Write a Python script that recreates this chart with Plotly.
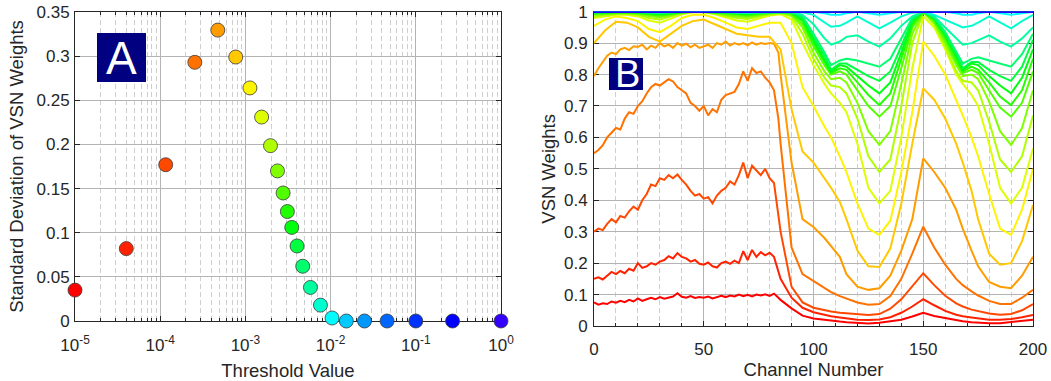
import colorsys
import plotly.graph_objects as go

# ---- Panel A: spread of VSN weights versus threshold ----
thresholds = [1e-5, 4e-5, 1.16e-4, 2.55e-4, 4.74e-4, 7.7e-4, 1.13e-3, 1.55e-3,
              1.97e-3, 2.38e-3, 2.77e-3, 3.11e-3, 3.5e-3, 4.04e-3, 4.71e-3, 5.8e-3,
              7.6e-3, 1.04e-2, 1.53e-2, 2.5e-2, 4.6e-2, 0.1, 0.27, 1.0]
std_weights = [0.035, 0.082, 0.177, 0.293, 0.3295, 0.299, 0.264, 0.231,
               0.1986, 0.170, 0.145, 0.124, 0.106, 0.085, 0.062, 0.038,
               0.018, 0.0034, 0.0, 0.0, 0.0, 0.0, 0.0, 0.0]

a_xtick_vals = [1e-5, 1e-4, 1e-3, 1e-2, 1e-1, 1e0]
a_xtick_text = ["10<sup>-5</sup>", "10<sup>-4</sup>", "10<sup>-3</sup>",
                "10<sup>-2</sup>", "10<sup>-1</sup>", "10<sup>0</sup>"]
a_ytick_vals = [0, 0.05, 0.1, 0.15, 0.2, 0.25, 0.3, 0.35]
a_ytick_text = ["0", "0.05", "0.1", "0.15", "0.2", "0.25", "0.3", "0.35"]

# ---- Panel B: VSN weight per channel, one curve per threshold ----
# coarse channel grid for the smoother curves
channels = [0, 5, 10, 15, 20, 25, 30, 35, 40, 45, 50, 55, 60, 65, 70, 75, 80, 85, 90, 95,
            100, 105, 108, 112, 115, 120, 125, 130, 135, 140, 145, 150, 155, 160, 165,
            168, 172, 175, 180, 185, 190, 195, 200]
# denser grid over channels 0-84 for the noisy low-threshold curves
channels_fine = [0, 2, 4, 6, 8, 10, 12, 14, 16, 18, 20, 22, 24, 26, 28, 30, 32, 34, 36,
                 38, 40, 42, 44, 46, 48, 50, 52, 54, 56, 58, 60, 62, 64, 66, 68, 70, 72,
                 74, 76, 78, 80, 82, 84,
                 85, 90, 95, 100, 105, 108, 112, 115, 120, 125, 130, 135, 140, 145, 150,
                 155, 160, 165, 168, 172, 175, 180, 185, 190, 195, 200]

w00 = [.075, .068, .072, .070, .078, .074, .080, .076, .083, .078, .088, .080, .085,
       .090, .085, .092, .087, .090, .094, .104, .093, .090, .095, .089, .092, .090,
       .094, .088, .092, .096, .092, .097, .094, .100, .095, .099, .094, .100, .097,
       .101, .096, .103, .090,
       .083, .056, .033, .024, .019, .017, .014, .012, .009, .008, .010, .014, .020,
       .030, .042, .032, .025, .018, .015, .012, .010, .009, .009, .012, .016, .020]
w01 = [.150, .155, .148, .160, .172, .165, .175, .168, .182, .176, .200, .185, .190,
       .200, .195, .205, .210, .222, .215, .232, .220, .215, .205, .210, .198, .195,
       .202, .190, .186, .200, .205, .198, .208, .200, .238, .210, .242, .220, .235,
       .225, .233, .220, .175,
       .150, .090, .058, .044, .035, .031, .027, .024, .020, .019, .021, .028, .042,
       .062, .085, .066, .048, .036, .031, .027, .024, .020, .020, .022, .028, .035]
w02 = [.300, .310, .305, .325, .340, .330, .350, .345, .365, .380, .370, .400, .420,
       .450, .445, .470, .465, .480, .470, .482, .465, .450, .430, .415, .420, .405,
       .410, .390, .415, .430, .440, .460, .450, .480, .520, .470, .510, .495, .480,
       .500, .470, .455, .340,
       .300, .125, .075, .058, .050, .046, .042, .040, .036, .035, .038, .055, .085,
       .125, .168, .130, .096, .072, .062, .052, .047, .040, .036, .038, .050, .070]
w03 = [.550, .560, .575, .600, .615, .630, .625, .660, .680, .675, .700, .715, .740,
       .760, .770, .765, .775, .785, .778, .760, .750, .740, .710, .700, .685, .700,
       .670, .690, .680, .720, .735, .740, .745, .770, .810, .780, .820, .805, .810,
       .790, .775, .750, .660,
       .580, .250, .165, .142, .120, .108, .095, .088, .075, .068, .070, .095, .150,
       .230, .316, .250, .195, .150, .130, .110, .097, .080, .070, .070, .090, .115]
w04 = [.795, .820, .840, .860, .870, .865, .880, .885, .878, .890, .888, .895, .880,
       .892, .885, .900, .890, .895, .885, .900, .892, .898, .887, .895, .885, .890,
       .895, .885, .900, .895, .905, .892, .900, .895, .900, .893, .902, .895, .900,
       .897, .900, .898, .870,
       .800, .520, .340, .315, .280, .255, .220, .165, .125, .115, .120, .160, .240,
       .340, .533, .490, .440, .370, .310, .240, .190, .140, .125, .120, .160, .220]
w05 = [.900, .940, .968, .965, .950, .920, .905, .930, .955, .970,
       .975, .960, .945, .930, .925, .920, .920, .880, .690, .555,
       .520, .470, .440, .395, .340, .240, .190, .188, .247, .390,
       .580, .756, .720, .660, .580, .520, .430, .340, .230, .195,
       .200, .270, .385]
w06 = [.955, .975, .985, .980, .970, .945, .935, .955, .980, .990,
       .990, .980, .965, .950, .945, .955, .965, .965, .900, .760,
       .700, .635, .600, .540, .490, .390, .310, .290, .335, .490,
       .680, .905, .860, .800, .720, .670, .600, .540, .420, .310,
       .290, .370, .500]
w07 = [.980, .985, .990, .990, .985, .972, .965, .978, .992, .998,
       .998, .992, .982, .972, .968, .978, .988, .992, .975, .900,
       .830, .770, .740, .710, .680, .580, .440, .390, .430, .600,
       .820, .985, .950, .880, .800, .770, .735, .700, .580, .440,
       .390, .440, .565]
w08 = [.985, .990, .993, .993, .990, .980, .975, .985, .995, .999,
       .999, .994, .988, .980, .977, .985, .992, .995, .985, .930,
       .850, .790, .765, .760, .740, .660, .540, .490, .530, .700,
       .900, .998, .960, .890, .810, .780, .775, .750, .650, .530,
       .490, .540, .670]
w09 = [.990, .993, .995, .995, .993, .986, .982, .989, .996, 1.00,
       1.00, .996, .991, .985, .983, .989, .994, .997, .990, .950,
       .870, .810, .785, .790, .775, .710, .620, .576, .620, .770,
       .930, 1.00, .965, .900, .830, .795, .800, .785, .715, .620,
       .576, .630, .750]
w10 = [.993, .995, .997, .997, .995, .990, .987, .992, .998, 1.00,
       1.00, .997, .994, .989, .987, .992, .996, .998, .993, .960,
       .890, .830, .800, .810, .800, .750, .700, .666, .700, .820,
       .950, 1.00, .970, .910, .840, .805, .815, .805, .750, .695,
       .666, .710, .810]
w11 = [.995, .997, .998, .998, .997, .993, .990, .994, .999, 1.00,
       1.00, .998, .996, .992, .990, .994, .997, .999, .995, .970,
       .900, .840, .805, .820, .815, .775, .735, .703, .740, .850,
       .960, 1.00, .975, .920, .850, .810, .825, .815, .775, .730,
       .703, .750, .850]
w12 = [.996, .998, .999, .999, .998, .995, .993, .996, .999, 1.00,
       1.00, .999, .997, .994, .993, .996, .998, .999, .997, .975,
       .910, .850, .810, .830, .825, .795, .765, .740, .775, .870,
       .970, 1.00, .978, .925, .860, .815, .835, .830, .795, .765,
       .740, .790, .880]
w13 = [.997, .999, 1.00, 1.00, .999, .996, .995, .997, 1.00, 1.00,
       1.00, .999, .998, .996, .995, .997, .999, 1.00, .998, .980,
       .920, .860, .815, .835, .835, .815, .795, .780, .810, .890,
       .975, 1.00, .980, .930, .865, .820, .840, .840, .815, .795,
       .780, .825, .910]
w14 = [.998, .999, 1.00, 1.00, .999, .997, .996, .998, 1.00, 1.00,
       1.00, 1.00, .999, .997, .996, .998, .999, 1.00, .999, .985,
       .930, .870, .830, .845, .850, .845, .835, .825, .850, .915,
       .980, 1.00, .983, .935, .875, .835, .850, .855, .845, .835,
       .825, .865, .930]
w15 = [.999, 1.00, 1.00, 1.00, 1.00, .998, .997, .999, 1.00, 1.00,
       1.00, 1.00, 1.00, .998, .997, .999, 1.00, 1.00, 1.00, .990,
       .960, .915, .895, .905, .920, .925, .905, .889, .915, .955,
       .985, 1.00, .985, .950, .915, .895, .900, .910, .925, .905,
       .889, .915, .950]
w16 = [1.00, 1.00, 1.00, 1.00, 1.00, .999, .999, 1.00, 1.00, 1.00,
       1.00, 1.00, 1.00, .999, .999, 1.00, 1.00, 1.00, 1.00, .998,
       .990, .965, .952, .955, .965, .985, .965, .947, .965, .985,
       .997, 1.00, .990, .975, .958, .950, .955, .965, .985, .965,
       .947, .970, .990]
w17 = [1.00, 1.00, 1.00, 1.00, 1.00, 1.00, 1.00, 1.00, 1.00, 1.00,
       1.00, 1.00, 1.00, 1.00, 1.00, 1.00, 1.00, 1.00, 1.00, 1.00,
       1.00, .995, .990, .990, .995, 1.00, .995, .990, .995, 1.00,
       1.00, 1.00, 1.00, 1.00, .995, .990, .990, .995, 1.00, .995,
       .990, .995, 1.00]
w18 = [1.00, 1.00, 1.00, 1.00, 1.00, 1.00, 1.00, 1.00, 1.00, 1.00,
       1.00, 1.00, 1.00, 1.00, 1.00, 1.00, 1.00, 1.00, 1.00, 1.00,
       1.00, 1.00, 1.00, 1.00, 1.00, 1.00, 1.00, 1.00, 1.00, 1.00,
       1.00, 1.00, 1.00, 1.00, 1.00, 1.00, 1.00, 1.00, 1.00, 1.00,
       1.00, 1.00, 1.00]
w19 = list(w18)
w20 = list(w18)
w21 = list(w18)
w22 = list(w18)
w23 = list(w18)
weight_curves = [w00, w01, w02, w03, w04, w05, w06, w07, w08, w09, w10, w11,
                 w12, w13, w14, w15, w16, w17, w18, w19, w20, w21, w22, w23]

b_xtick_vals = [0, 50, 100, 150, 200]
b_ytick_vals = [0, 0.1, 0.2, 0.3, 0.4, 0.5, 0.6, 0.7, 0.8, 0.9, 1.0]
b_ytick_text = ["0", "0.1", "0.2", "0.3", "0.4", "0.5", "0.6", "0.7", "0.8", "0.9", "1"]

# hue ramp red -> violet-blue, one colour per threshold
n = len(thresholds)
colors = []
for i in range(n):
    hue = 0.7 * (i / (n - 1)) ** 1.1
    r, g, b = colorsys.hsv_to_rgb(hue, 1.0, 1.0)
    colors.append("rgb(%d,%d,%d)" % (round(r * 255), round(g * 255), round(b * 255)))

W, H = 1051, 381
FONT = "Liberation Sans, Arial, sans-serif"
INK = "#262626"
MAJOR_GRID = "#b4b4b4"
MINOR_GRID = "#cfcfcf"
DASH = "5px,3px"

fig = go.Figure()

fig.add_trace(go.Scatter(
    x=thresholds, y=std_weights, mode="markers", xaxis="x", yaxis="y",
    marker=dict(size=14, color=colors, line=dict(color="#3a3a3a", width=0.8)),
    cliponaxis=False, showlegend=False, hoverinfo="skip"))

for i, w in enumerate(weight_curves):
    xs = channels_fine if len(w) == len(channels_fine) else channels
    fig.add_trace(go.Scatter(
        x=xs, y=w, mode="lines", xaxis="x2", yaxis="y2",
        line=dict(color=colors[i], width=2), cliponaxis=False,
        showlegend=False, hoverinfo="skip"))


def px_x(p):
    return p / W


def px_y(p):
    return 1 - p / H


a_minor = [m * 10.0 ** e for e in range(-5, 0) for m in range(2, 10)]

common = dict(showline=True, linecolor=INK, linewidth=1, mirror="allticks",
              ticks="inside", ticklen=5, tickcolor=INK, showgrid=True,
              gridcolor=MAJOR_GRID, gridwidth=1, zeroline=False, automargin=False,
              layer="below traces", tickfont=dict(family=FONT, size=17, color=INK))

fig.update_layout(
    width=W, height=H, margin=dict(l=0, r=0, t=0, b=0, autoexpand=False),
    paper_bgcolor="white", plot_bgcolor="white",
    font=dict(family=FONT, color=INK),
    xaxis=dict(type="log", domain=[px_x(75), px_x(501)], range=[-5, 0],
               tickmode="array", tickvals=a_xtick_vals, ticktext=a_xtick_text,
               anchor="y", ticklabelstandoff=9,
               minor=dict(tickvals=a_minor, ticks="inside", ticklen=3, tickcolor=INK,
                          showgrid=True, gridcolor=MINOR_GRID, griddash=DASH),
               title=dict(text="Threshold Value", font=dict(size=18.5, color=INK),
                          standoff=9),
               **common),
    yaxis=dict(domain=[px_y(321), px_y(12)], range=[0, 0.35],
               tickmode="array", tickvals=a_ytick_vals, ticktext=a_ytick_text,
               anchor="x", ticklabelstandoff=1,
               title=dict(text="Standard Deviation of VSN Weights",
                          font=dict(size=18.5, color=INK), standoff=8),
               **common),
    xaxis2=dict(domain=[px_x(594), px_x(1033)], range=[0, 200],
                tickmode="array", tickvals=b_xtick_vals, anchor="y2",
                ticklabelstandoff=8,
                minor=dict(dtick=10, ticks="inside", ticklen=3, tickcolor=INK,
                           showgrid=True, gridcolor=MINOR_GRID, griddash=DASH),
                title=dict(text="Channel Number", font=dict(size=18.5, color=INK),
                           standoff=3),
                **common),
    yaxis2=dict(domain=[px_y(326), px_y(11.7)], range=[0, 1],
                tickmode="array", tickvals=b_ytick_vals, ticktext=b_ytick_text,
                anchor="x2", ticklabelstandoff=2,
                title=dict(text="VSN Weights", font=dict(size=18.5, color=INK),
                           standoff=3),
                **common),
)

# panel tags
fig.add_shape(type="rect", xref="paper", yref="paper",
              x0=px_x(97), x1=px_x(146), y0=px_y(82), y1=px_y(33),
              fillcolor="#000080", line=dict(width=0), layer="above")
fig.add_annotation(xref="paper", yref="paper", x=px_x(121.5), y=px_y(57.5),
                   text="A", showarrow=False, xanchor="center", yanchor="middle",
                   font=dict(family=FONT, size=46, color="white"))
fig.add_shape(type="rect", xref="paper", yref="paper",
              x0=px_x(609), x1=px_x(643), y0=px_y(90), y1=px_y(58),
              fillcolor="#000080", line=dict(width=0), layer="above")
fig.add_annotation(xref="paper", yref="paper", x=px_x(627), y=px_y(74),
                   text="B", showarrow=False, xanchor="center", yanchor="middle",
                   font=dict(family=FONT, size=38, color="white"))

fig.write_html("out.html")
